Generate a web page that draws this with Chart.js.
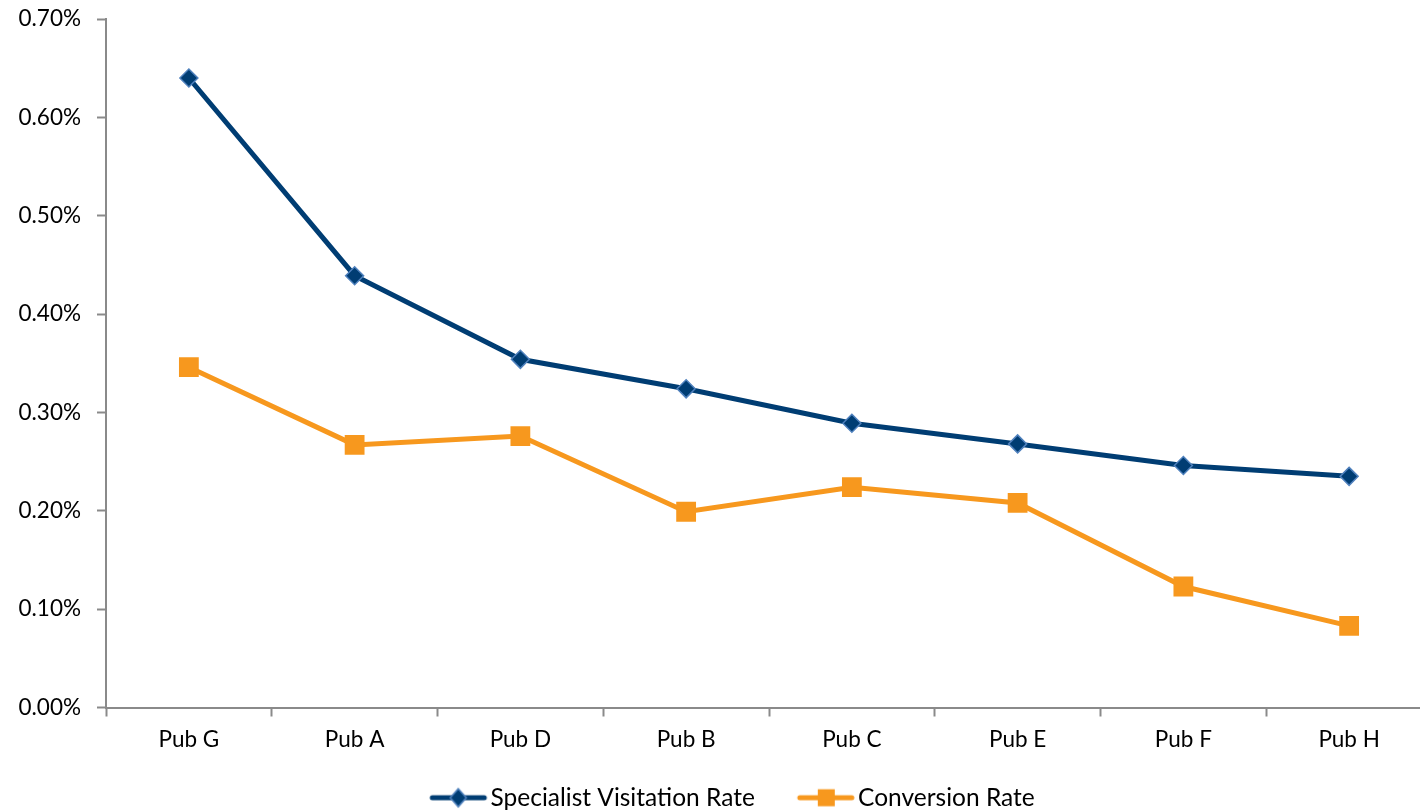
<!DOCTYPE html>
<html>
<head>
<meta charset="utf-8">
<script src="https://cdn.jsdelivr.net/npm/chart.js@4"></script>
<style>
  html, body { margin: 0; padding: 0; background: #fff; overflow: hidden; width: 1420px; height: 810px; }
  canvas { display: block; }
</style>
</head>
<body>
<canvas id="c" width="1432" height="820"></canvas>
<script>
// Publishers, ordered by visitation rate
const categories = ['Pub G', 'Pub A', 'Pub D', 'Pub B', 'Pub C', 'Pub E', 'Pub F', 'Pub H'];
// Rates in percent
const visitationRate = [0.640, 0.439, 0.354, 0.324, 0.289, 0.268, 0.246, 0.235];
const conversionRate = [0.346, 0.267, 0.276, 0.199, 0.224, 0.208, 0.123, 0.083];
const seriesNames = ['Specialist Visitation Rate', 'Conversion Rate'];

const NAVY = '#003D73';
const NAVY_EDGE = '#4F81BD';
const ORANGE = '#F7981E';
const AXIS = '#8A8A8A';
const FONT = 'Lato, "Open Sans", sans-serif';

// Legend swatch: line segment with the series marker, drawn on the right
// part of a wider canvas so the blank left part spaces the legend items.
const SW_BOX = 81;   // legend box width
const SW_W = 105;    // swatch canvas width
const SW_LEFT = 45;  // where the visible line starts inside the swatch
function swatch(kind) {
  const cv = document.createElement('canvas');
  cv.width = SW_W; cv.height = 22;
  const g = cv.getContext('2d');
  const x0 = SW_LEFT, x1 = SW_LEFT + 56, xm = (x0 + x1) / 2;
  g.lineCap = 'round';
  g.lineWidth = 5;
  g.strokeStyle = kind === 'diamond' ? NAVY : ORANGE;
  g.beginPath(); g.moveTo(x0 + 2, 11); g.lineTo(x1 - 2, 11); g.stroke();
  if (kind === 'diamond') {
    g.beginPath();
    g.moveTo(xm, 2); g.lineTo(xm + 8, 11); g.lineTo(xm, 20); g.lineTo(xm - 8, 11); g.closePath();
    g.fillStyle = NAVY; g.fill();
    g.lineWidth = 1.5; g.strokeStyle = NAVY_EDGE; g.stroke();
  } else {
    g.fillStyle = ORANGE;
    g.fillRect(Math.round(xm - 8.5), 2.5, 17, 17);
  }
  return cv;
}
const swatches = [swatch('diamond'), swatch('square')];

// Keep the plot box fixed: the axes should not reserve room for label overhang
const noOverhang = s => {
  s.paddingTop = 0; s.paddingBottom = 0;
  s.paddingLeft = 0; s.paddingRight = 0;
};

new Chart(document.getElementById('c'), {
  type: 'line',
  data: {
    labels: categories,
    datasets: [
      {
        label: seriesNames[0],
        data: visitationRate,
        borderColor: NAVY,
        backgroundColor: NAVY,
        borderWidth: 5,
        pointStyle: 'rectRot',
        pointRadius: 9,
        pointHoverRadius: 9,
        pointBackgroundColor: NAVY,
        pointBorderColor: NAVY_EDGE,
        pointBorderWidth: 1.5,
        tension: 0
      },
      {
        label: seriesNames[1],
        data: conversionRate,
        borderColor: ORANGE,
        backgroundColor: ORANGE,
        borderWidth: 5,
        pointStyle: 'rect',
        pointRadius: 14,
        pointHoverRadius: 14,
        pointBackgroundColor: ORANGE,
        pointBorderColor: ORANGE,
        pointBorderWidth: 0,
        tension: 0
      }
    ]
  },
  options: {
    responsive: false,
    devicePixelRatio: 1,
    animation: false,
    layout: { autoPadding: false, padding: { top: 19, left: 0, right: 0, bottom: 0 } },
    scales: {
      x: {
        offset: true,
        afterFit: s => { s.height = 68; noOverhang(s); },
        grid: {
          offset: true,
          drawOnChartArea: false,
          drawTicks: true,
          tickLength: 9,
          tickColor: AXIS,
          tickWidth: 2
        },
        border: { display: true, color: AXIS, width: 2 },
        ticks: {
          color: '#000',
          font: { family: FONT, size: 22.5 },
          padding: 10,
          maxRotation: 0
        }
      },
      y: {
        min: 0,
        max: 0.7,
        afterFit: s => { s.width = 106; noOverhang(s); },
        grid: {
          drawOnChartArea: false,
          drawTicks: true,
          tickLength: 9,
          tickColor: AXIS,
          tickWidth: 2
        },
        border: { display: true, color: AXIS, width: 2 },
        ticks: {
          stepSize: 0.1,
          color: '#000',
          font: { family: FONT, size: 22.5 },
          padding: 16,
          callback: v => v.toFixed(2) + '%'
        }
      }
    },
    plugins: {
      tooltip: { enabled: false },
      legend: {
        position: 'bottom',
        align: 'center',
        labels: {
          usePointStyle: true,
          pointStyleWidth: SW_BOX,
          boxHeight: 22,
          padding: 10,
          color: '#000',
          font: { family: FONT, size: 24.5 },
          generateLabels: chart => chart.data.datasets.map((ds, i) => ({
            text: ds.label,
            pointStyle: swatches[i],
            fillStyle: ds.borderColor,
            strokeStyle: ds.borderColor,
            lineWidth: 0,
            hidden: false,
            datasetIndex: i
          }))
        }
      }
    }
  }
});
</script>
</body>
</html>
